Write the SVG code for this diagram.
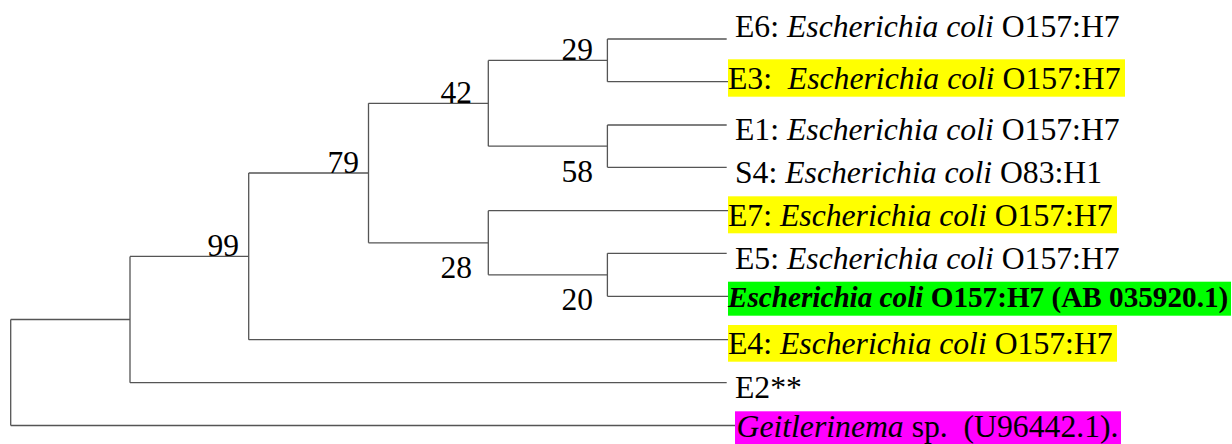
<svg xmlns="http://www.w3.org/2000/svg" width="1232" height="444" viewBox="0 0 1232 444">
<style>
text{font-family:"Liberation Serif","Times New Roman",serif;font-size:31.7px;fill:#000}
.i{font-style:italic}
.b{font-weight:bold;font-size:29.2px}
.num{text-anchor:end;font-size:31.5px}
.edge{fill:none;stroke:#555;stroke-width:1.3}
.hy{fill:#ffff00}
.hg{fill:#00ff00}
.hm{fill:#ff00ff}
</style>
<rect width="1232" height="444" fill="#fff"/>
<g id="connectors">
<path class="edge" d="M607.4 39V81.7M607.4 39H726.7M607.4 81.7H728"/>
<path class="edge" d="M607.4 125V167.3M607.4 125H726.7M607.4 167.3H726.7"/>
<path class="edge" d="M488.3 60.4V146.2M488.3 60.4H607.4M488.3 146.2H607.4"/>
<path class="edge" d="M607.4 253.3V296.3M607.4 253.3H726.7M607.4 296.3H728"/>
<path class="edge" d="M488.3 210.7V274.8M488.3 210.7H728M488.3 274.8H607.4"/>
<path class="edge" d="M368.5 103.3V242.8M368.5 103.3H488.3M368.5 242.8H488.3"/>
<path class="edge" d="M248.7 173V339.7M248.7 173H368.5M248.7 339.7H728"/>
<path class="edge" d="M130 256.4V382.7M130 256.4H248.7M130 382.7H726.7"/>
<path class="edge" d="M10.7 319.5V425.5M10.7 319.5H130M10.7 425.5H735"/>
</g>
<g id="bootstrap">
<text class="num" x="593" y="60">29</text>
<text class="num" x="472" y="102.7">42</text>
<text class="num" x="593" y="181.7">58</text>
<text class="num" x="359" y="173">79</text>
<text class="num" x="239" y="256">99</text>
<text class="num" x="472" y="278.3">28</text>
<text class="num" x="593" y="310">20</text>
</g>
<g id="E6"><text x="735" y="37.3">E6: <tspan class="i">Escherichia coli</tspan> O157:H7</text></g>
<g id="E3"><rect class="hy" x="728" y="59.3" width="397" height="37.4"/><text x="728" y="89" xml:space="preserve">E3:  <tspan class="i">Escherichia coli</tspan> O157:H7</text></g>
<g id="E1"><text x="735" y="140">E1: <tspan class="i">Escherichia coli</tspan> O157:H7</text></g>
<g id="S4"><text x="735" y="182.7">S4: <tspan class="i">Escherichia coli</tspan> O83:H1</text></g>
<g id="E7"><rect class="hy" x="728" y="196.3" width="389" height="37"/><text x="728" y="225.5">E7: <tspan class="i">Escherichia coli</tspan> O157:H7</text></g>
<g id="E5"><text x="735" y="269">E5: <tspan class="i">Escherichia coli</tspan> O157:H7</text></g>
<g id="AB035920"><rect class="hg" x="728" y="281.7" width="503" height="34"/><text class="b" x="728" y="307"><tspan class="i">Escherichia coli</tspan> O157:H7 (AB 035920.1)</text></g>
<g id="E4"><rect class="hy" x="728" y="325" width="389" height="36.7"/><text x="728" y="353.5">E4: <tspan class="i">Escherichia coli</tspan> O157:H7</text></g>
<g id="E2"><text x="735" y="398.3">E2**</text></g>
<g id="Geitlerinema"><rect class="hm" x="735" y="411.3" width="386" height="32.7"/><text x="736.5" y="436.5" xml:space="preserve"><tspan class="i">Geitlerinema</tspan> sp.  (U96442.1).</text></g>
</svg>
